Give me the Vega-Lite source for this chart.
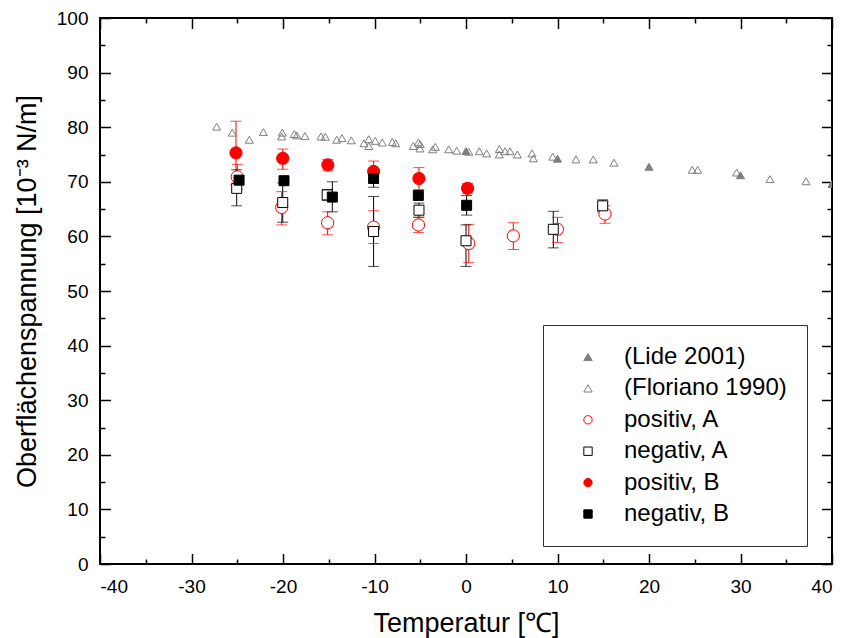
{
  "$schema": "https://vega.github.io/schema/vega-lite/v6.json",
  "width": 732,
  "height": 546,
  "autosize": {"type": "none"},
  "padding": {"left": 100, "top": 18, "right": 13, "bottom": 74},
  "background": "white",
  "config": {
    "view": {"stroke": "black", "strokeWidth": 2},
    "font": "Liberation Sans",
    "axis": {
      "domain": false,
      "grid": false,
      "tickColor": "black",
      "tickWidth": 1.5,
      "labelFont": "Liberation Sans",
      "labelFontSize": 19,
      "labelColor": "black",
      "titleFont": "Liberation Sans",
      "titleFontSize": 27,
      "titleFontWeight": "normal",
      "titleColor": "black"
    },
    "legend": {
      "labelFont": "Liberation Sans",
      "labelFontSize": 24,
      "labelColor": "black",
      "labelLimit": 400
    }
  },
  "datasets": {
    "pts": [
      {"s": "(Lide 2001)", "T": 0, "V": 75.64},
      {"s": "(Lide 2001)", "T": 10, "V": 74.23},
      {"s": "(Lide 2001)", "T": 20, "V": 72.75},
      {"s": "(Lide 2001)", "T": 30, "V": 71.2},
      {"s": "(Lide 2001)", "T": 40, "V": 69.6},
      {"s": "(Floriano 1990)", "T": -27.25, "V": 80.1},
      {"s": "(Floriano 1990)", "T": -25.54, "V": 79.0},
      {"s": "(Floriano 1990)", "T": -23.68, "V": 77.7},
      {"s": "(Floriano 1990)", "T": -22.15, "V": 79.1},
      {"s": "(Floriano 1990)", "T": -20.08, "V": 79.0},
      {"s": "(Floriano 1990)", "T": -20.14, "V": 78.3},
      {"s": "(Floriano 1990)", "T": -18.77, "V": 78.75},
      {"s": "(Floriano 1990)", "T": -18.5, "V": 78.5},
      {"s": "(Floriano 1990)", "T": -17.6, "V": 78.4},
      {"s": "(Floriano 1990)", "T": -15.85, "V": 78.3},
      {"s": "(Floriano 1990)", "T": -15.38, "V": 78.25},
      {"s": "(Floriano 1990)", "T": -14.13, "V": 77.7},
      {"s": "(Floriano 1990)", "T": -13.55, "V": 78.0},
      {"s": "(Floriano 1990)", "T": -12.54, "V": 77.6},
      {"s": "(Floriano 1990)", "T": -11.15, "V": 77.05},
      {"s": "(Floriano 1990)", "T": -10.63, "V": 77.8},
      {"s": "(Floriano 1990)", "T": -10.63, "V": 76.55},
      {"s": "(Floriano 1990)", "T": -9.91, "V": 77.5},
      {"s": "(Floriano 1990)", "T": -9.15, "V": 77.2},
      {"s": "(Floriano 1990)", "T": -8.05, "V": 77.3},
      {"s": "(Floriano 1990)", "T": -7.68, "V": 77.05},
      {"s": "(Floriano 1990)", "T": -5.76, "V": 76.55},
      {"s": "(Floriano 1990)", "T": -5.21, "V": 77.2},
      {"s": "(Floriano 1990)", "T": -5.03, "V": 76.1},
      {"s": "(Floriano 1990)", "T": -5.0, "V": 76.9},
      {"s": "(Floriano 1990)", "T": -3.64, "V": 75.95},
      {"s": "(Floriano 1990)", "T": -3.35, "V": 76.4},
      {"s": "(Floriano 1990)", "T": -1.89, "V": 75.95},
      {"s": "(Floriano 1990)", "T": -1.02, "V": 75.7},
      {"s": "(Floriano 1990)", "T": 0.3, "V": 75.5},
      {"s": "(Floriano 1990)", "T": 1.45, "V": 75.6},
      {"s": "(Floriano 1990)", "T": 2.26, "V": 75.2},
      {"s": "(Floriano 1990)", "T": 3.64, "V": 76.0},
      {"s": "(Floriano 1990)", "T": 3.64, "V": 75.0},
      {"s": "(Floriano 1990)", "T": 4.26, "V": 75.6},
      {"s": "(Floriano 1990)", "T": 4.81, "V": 75.6},
      {"s": "(Floriano 1990)", "T": 5.61, "V": 75.0},
      {"s": "(Floriano 1990)", "T": 7.21, "V": 75.2},
      {"s": "(Floriano 1990)", "T": 7.36, "V": 74.3},
      {"s": "(Floriano 1990)", "T": 9.48, "V": 74.6},
      {"s": "(Floriano 1990)", "T": 12.02, "V": 74.1},
      {"s": "(Floriano 1990)", "T": 13.91, "V": 74.1},
      {"s": "(Floriano 1990)", "T": 16.17, "V": 73.5},
      {"s": "(Floriano 1990)", "T": 24.73, "V": 72.2},
      {"s": "(Floriano 1990)", "T": 25.32, "V": 72.2},
      {"s": "(Floriano 1990)", "T": 29.58, "V": 71.7},
      {"s": "(Floriano 1990)", "T": 33.22, "V": 70.5},
      {"s": "(Floriano 1990)", "T": 37.16, "V": 70.1},
      {"s": "positiv, A", "T": -25.0, "V": 70.9, "lo": 68.6, "hi": 73.2},
      {"s": "positiv, A", "T": -20.14, "V": 65.3, "lo": 62.1, "hi": 68.2},
      {"s": "positiv, A", "T": -15.12, "V": 62.5, "lo": 60.3, "hi": 64.5},
      {"s": "positiv, A", "T": -10.1, "V": 61.7, "lo": 58.7, "hi": 64.7},
      {"s": "positiv, A", "T": -5.2, "V": 62.1, "lo": 60.7, "hi": 63.5},
      {"s": "positiv, A", "T": 0.3, "V": 58.7, "lo": 55.2, "hi": 62.2},
      {"s": "positiv, A", "T": 5.17, "V": 60.1, "lo": 57.6, "hi": 62.5},
      {"s": "positiv, A", "T": 10.0, "V": 61.3, "lo": 58.9, "hi": 63.5},
      {"s": "positiv, A", "T": 15.19, "V": 64.1, "lo": 62.4, "hi": 65.6},
      {"s": "negativ, A", "T": -25.06, "V": 68.8, "lo": 65.6, "hi": 72.2},
      {"s": "negativ, A", "T": -20.03, "V": 66.2, "lo": 62.6, "hi": 69.8},
      {"s": "negativ, A", "T": -15.17, "V": 67.6, "lo": 66.6, "hi": 68.6},
      {"s": "negativ, A", "T": -10.1, "V": 60.9, "lo": 54.5, "hi": 67.3},
      {"s": "negativ, A", "T": -5.14, "V": 64.8, "lo": 63.5, "hi": 66.1},
      {"s": "negativ, A", "T": 0.0, "V": 59.2, "lo": 54.5, "hi": 62.1},
      {"s": "negativ, A", "T": 9.54, "V": 61.3, "lo": 57.9, "hi": 64.6},
      {"s": "negativ, A", "T": 14.94, "V": 65.6, "lo": 64.5, "hi": 66.7},
      {"s": "positiv, B", "T": -25.14, "V": 75.3, "lo": 69.5, "hi": 81.1},
      {"s": "positiv, B", "T": -20.03, "V": 74.3, "lo": 72.3, "hi": 76.0},
      {"s": "positiv, B", "T": -15.1, "V": 73.1, "lo": 72.0, "hi": 74.1},
      {"s": "positiv, B", "T": -10.1, "V": 71.9, "lo": 70.0, "hi": 73.8},
      {"s": "positiv, B", "T": -5.14, "V": 70.6, "lo": 68.6, "hi": 72.6},
      {"s": "positiv, B", "T": 0.17, "V": 68.8, "lo": 67.9, "hi": 69.7},
      {"s": "negativ, B", "T": -24.8, "V": 70.3},
      {"s": "negativ, B", "T": -19.89, "V": 70.2},
      {"s": "negativ, B", "T": -14.61, "V": 67.2, "lo": 64.5, "hi": 70.0},
      {"s": "negativ, B", "T": -10.1, "V": 70.6, "lo": 69.0, "hi": 72.2},
      {"s": "negativ, B", "T": -5.21, "V": 67.5},
      {"s": "negativ, B", "T": 0.07, "V": 65.7, "lo": 63.9, "hi": 67.5}
    ]
  },
  "data": {"name": "pts"},
  "resolve": {"axis": {"x": "independent", "y": "independent"}},
  "layer": [
    {
      "transform": [{"filter": "isValid(datum.lo)"}],
      "mark": {"type": "rule", "strokeWidth": 1},
      "encoding": {
        "x": {
          "field": "T", "type": "quantitative",
          "scale": {"domain": [-40, 40], "nice": false},
          "axis": {
            "orient": "top", "title": null, "labels": false,
            "values": [-40, -35, -30, -25, -20, -15, -10, -5, 0, 5, 10, 15, 20, 25, 30, 35, 40],
            "tickSize": {"condition": {"test": "datum.value % 10 === 0", "value": -10.5}, "value": -5}
          }
        },
        "y": {
          "field": "lo", "type": "quantitative",
          "scale": {"domain": [0, 100], "nice": false},
          "axis": {
            "orient": "right", "title": null, "labels": false,
            "values": [0, 5, 10, 15, 20, 25, 30, 35, 40, 45, 50, 55, 60, 65, 70, 75, 80, 85, 90, 95, 100],
            "tickSize": {"condition": {"test": "datum.value % 10 === 0", "value": -10.5}, "value": -5}
          }
        },
        "y2": {"field": "hi"},
        "stroke": {"condition": {"test": "indexof(datum.s, 'positiv') === 0", "value": "#ff0000"}, "value": "black"}
      }
    },
    {
      "transform": [{"filter": "isValid(datum.lo)"}],
      "mark": {"type": "tick", "orient": "horizontal", "size": 11, "thickness": 1},
      "encoding": {
        "x": {"field": "T", "type": "quantitative", "axis": null},
        "y": {"field": "lo", "type": "quantitative", "axis": null},
        "color": {"condition": {"test": "indexof(datum.s, 'positiv') === 0", "value": "#ff0000"}, "value": "black"}
      }
    },
    {
      "transform": [{"filter": "isValid(datum.hi)"}],
      "mark": {"type": "tick", "orient": "horizontal", "size": 11, "thickness": 1},
      "encoding": {
        "x": {"field": "T", "type": "quantitative", "axis": null},
        "y": {"field": "hi", "type": "quantitative", "axis": null},
        "color": {"condition": {"test": "indexof(datum.s, 'positiv') === 0", "value": "#ff0000"}, "value": "black"}
      }
    },
    {
      "mark": {"type": "point", "strokeWidth": 1, "opacity": 1, "clip": true},
      "encoding": {
        "x": {
          "field": "T", "type": "quantitative",
          "axis": {
            "orient": "bottom", "title": "Temperatur [℃]", "titlePadding": 14,
            "values": [-40, -35, -30, -25, -20, -15, -10, -5, 0, 5, 10, 15, 20, 25, 30, 35, 40],
            "labelExpr": "datum.value % 10 === 0 ? '' + datum.value : ''",
            "labelPadding": 24,
            "tickSize": {"condition": {"test": "datum.value % 10 === 0", "value": -10.5}, "value": -5}
          }
        },
        "y": {
          "field": "V", "type": "quantitative",
          "axis": {
            "orient": "left", "title": "Oberflächenspannung [10⁻³ N/m]", "titlePadding": 15,
            "values": [0, 5, 10, 15, 20, 25, 30, 35, 40, 45, 50, 55, 60, 65, 70, 75, 80, 85, 90, 95, 100],
            "labelExpr": "datum.value % 10 === 0 ? '' + datum.value : ''",
            "labelPadding": 22.5,
            "tickSize": {"condition": {"test": "datum.value % 10 === 0", "value": -10.5}, "value": -5}
          }
        },
        "shape": {
          "field": "s", "type": "nominal",
          "scale": {"domain": ["(Lide 2001)", "(Floriano 1990)", "positiv, A", "negativ, A", "positiv, B", "negativ, B"],
                    "range": ["triangle-up", "triangle-up", "circle", "square", "circle", "square"]},
          "legend": {
            "title": null, "orient": "none", "legendX": 443, "legendY": 307,
            "strokeColor": "#333333", "fillColor": "white", "padding": 20,
            "symbolSize": 70, "symbolStrokeWidth": 1, "symbolOffset": 13, "labelOffset": 24,
            "rowPadding": 7.4, "clipHeight": 24
          }
        },
        "stroke": {
          "field": "s", "type": "nominal",
          "scale": {"domain": ["(Lide 2001)", "(Floriano 1990)", "positiv, A", "negativ, A", "positiv, B", "negativ, B"],
                    "range": ["#7f7f7f", "#7f7f7f", "#ff0000", "black", "#ff0000", "black"]}
        },
        "fill": {
          "field": "s", "type": "nominal",
          "scale": {"domain": ["(Lide 2001)", "(Floriano 1990)", "positiv, A", "negativ, A", "positiv, B", "negativ, B"],
                    "range": ["#7f7f7f", "transparent", "white", "white", "#ff0000", "black"]}
        },
        "size": {
          "condition": [
            {"test": "indexof(datum.s, '(') === 0", "value": 64},
            {"test": "indexof(datum.s, 'negativ') === 0", "value": 100}
          ],
          "value": 150
        }
      }
    }
  ]
}
